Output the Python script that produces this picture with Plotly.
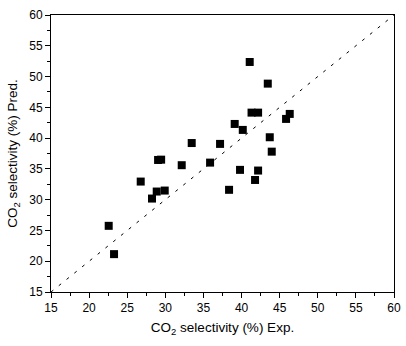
import plotly.graph_objects as go

exp_vals = [22.57, 23.27, 26.77, 28.25, 28.87, 29.92, 29.05, 29.45, 32.15, 33.46,
            35.87, 37.18, 38.36, 39.10, 39.80, 40.16, 41.07, 41.31, 42.17, 41.77,
            42.17, 43.44, 43.70, 43.96, 45.84, 46.32]
pred_vals = [25.75, 21.15, 32.94, 30.18, 31.32, 31.48, 36.45, 36.50, 35.60, 39.20,
             36.02, 39.06, 31.60, 42.30, 34.84, 41.33, 52.37, 44.14, 44.14, 33.20,
             34.73, 48.85, 40.14, 37.80, 43.12, 43.93]
diag = [15, 60]
tick_vals = [15, 20, 25, 30, 35, 40, 45, 50, 55, 60]

FONT = "Liberation Sans, Arial"

fig = go.Figure()
fig.add_trace(go.Scatter(x=diag, y=diag, mode="lines",
                         line=dict(color="black", width=1, dash="3px,7px"),
                         showlegend=False, hoverinfo="skip"))
fig.add_trace(go.Scatter(x=exp_vals, y=pred_vals, mode="markers",
                         marker=dict(symbol="square", size=8, color="black"),
                         showlegend=False))

axis_common = dict(range=[15, 60], tickvals=tick_vals, ticks="outside", ticklen=5,
                   tickwidth=1, tickcolor="black", showline=True, linecolor="black",
                   linewidth=1, mirror=True, showgrid=False, zeroline=False,
                   automargin=False,
                   tickfont=dict(family=FONT, size=12, color="black"),
                   minor=dict(dtick=2.5, tick0=15, ticks="outside", ticklen=3,
                              tickcolor="black", showgrid=False))

fig.update_xaxes(**axis_common,
                 title=dict(text="CO<sub>2</sub> selectivity (%) Exp.",
                            font=dict(family=FONT, size=13.5, color="black"),
                            standoff=8))
fig.update_yaxes(**axis_common,
                 title=dict(text="CO<sub>2</sub> selectivity (%) Pred.",
                            font=dict(family=FONT, size=13.5, color="black"),
                            standoff=8))

fig.update_layout(width=406, height=346,
                  margin=dict(l=51, r=12, t=15, b=54),
                  plot_bgcolor="white", paper_bgcolor="white")

fig.write_html("out.html")
